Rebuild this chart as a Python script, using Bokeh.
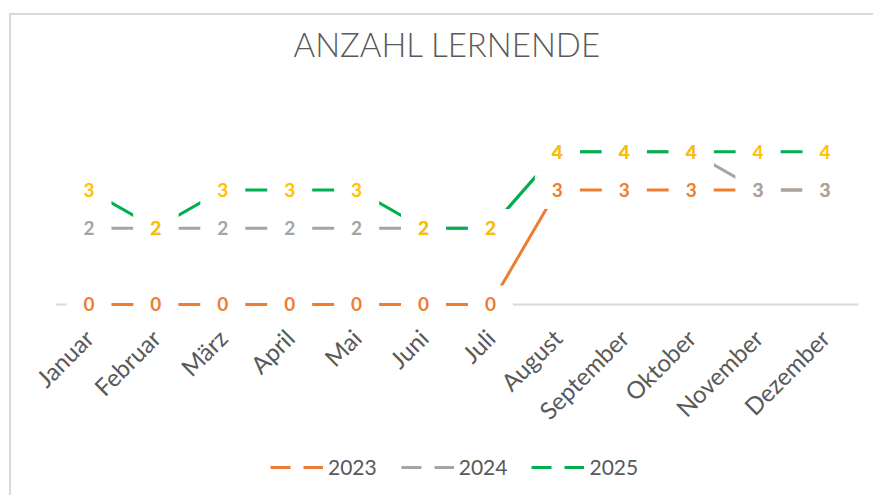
from math import pi
from bokeh.plotting import figure
from bokeh.layouts import column
from bokeh.models import FactorRange, Range1d, Span, Legend, LegendItem
from bokeh.core.properties import value
from bokeh.embed import file_html
from bokeh.resources import INLINE

# ---- data ----
months = ["Januar", "Februar", "März", "April", "Mai", "Juni", "Juli",
          "August", "September", "Oktober", "November", "Dezember"]
years = ["2023", "2024", "2025"]
v2023 = [0, 0, 0, 0, 0, 0, 0, 3, 3, 3, 3, 3]
v2024 = [2, 2, 2, 2, 2, 2, 2, 4, 4, 4, 3, 3]
v2025 = [3, 2, 3, 3, 3, 2, 2, 4, 4, 4, 4, 4]
series = [v2023, v2024, v2025]

line_colors = ["#ED7D31", "#A5A5A5", "#00B050"]
label_colors = ["#ED7D31", "#A5A5A5", "#FFC000"]

W = 862
p = figure(
    x_range=FactorRange(*months),
    y_range=Range1d(-0.395, 6.132),
    width=W, height=434,
    output_backend="svg", toolbar_location=None,
    title="ANZAHL LERNENDE",
    min_border_left=44, min_border_right=15, min_border_top=5, min_border_bottom=130,
)
p.title.align = "left"
p.title.offset = 238
p.title.standoff = 13
p.title.text_font = "Lato Light"
p.title.text_font_size = "33px"
p.title.text_font_style = "normal"
p.title.text_color = "#595959"

p.xaxis.axis_line_color = None
p.xaxis.major_tick_line_color = None
p.xaxis.minor_tick_line_color = None
p.xaxis.major_label_orientation = pi / 4
p.xaxis.major_label_text_font = "Lato"
p.xaxis.major_label_text_font_size = "24px"
p.xaxis.major_label_text_color = "#595959"
p.xaxis.major_label_standoff = 8
p.yaxis.visible = False
p.xgrid.visible = False
p.ygrid.visible = False
p.outline_line_color = None

p.add_layout(Span(location=0, dimension="width", line_color="#D9D9D9",
                  line_width=2, level="underlay"))

for vals, lc in zip(series, line_colors):
    p.line(x=months, y=vals, line_color=lc, line_width=3)

for vals in series:
    p.rect(x=months, y=vals, width=45, height=38, width_units="screen",
           height_units="screen", fill_color="white", line_color=None)

for vals, tc in zip(series, label_colors):
    p.text(x=months, y=vals, text=[str(v) for v in vals], text_align="center",
           text_baseline="middle", text_font=value("Lato"), text_font_style="bold",
           text_font_size="19px", text_color=tc)

# ---- legend strip (separate figure below the chart) ----
pl = figure(x_range=FactorRange(*months), y_range=Range1d(-1, 5),
            width=W, height=46, output_backend="svg", toolbar_location=None,
            min_border_left=0, min_border_right=0, min_border_top=0,
            min_border_bottom=0)
pl.axis.visible = False
pl.grid.visible = False
pl.outline_line_color = None

items = []
for yr, vals, lc in zip(years, series, line_colors):
    r = pl.line(x=months, y=vals, line_color=lc, line_width=3, line_dash="20 13",
                visible=False)
    items.append(LegendItem(label=yr, renderers=[r]))

legend = Legend(items=items, orientation="horizontal", location=(215, 16),
                glyph_width=53, glyph_height=20, label_standoff=5, spacing=24,
                label_text_font="Lato", label_text_font_size="21px",
                label_text_color="#595959", border_line_color=None,
                background_fill_alpha=0, padding=0, margin=0,
                inactive_fill_alpha=0)
pl.add_layout(legend)

layout = column(p, pl, margin=(13, 0, 0, 9),
                styles={"border-top": "2px solid #D9D9D9",
                        "border-left": "2px solid #D9D9D9"})

open("out.html", "w").write(file_html(layout, INLINE))
